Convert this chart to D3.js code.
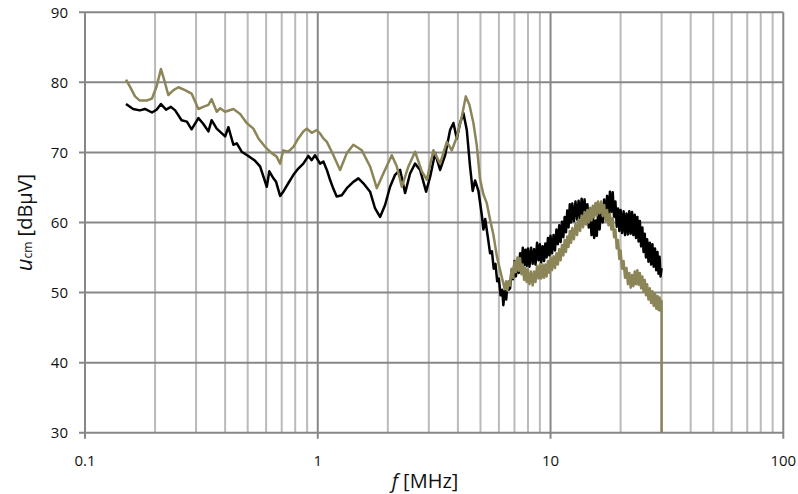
<!DOCTYPE html>
<html>
<head>
<meta charset="utf-8">
<script src="https://cdn.jsdelivr.net/npm/d3@7"></script>
<style>
  body { margin: 0; background: #fff; }
  svg { display: block; font-family: "Open Sans", "Liberation Sans", sans-serif; }
</style>
</head>
<body>
<svg width="798" height="494"></svg>
<script>
// tick values
const xMajor = [0.1, 1, 10, 100];
const xLabels = ["0.1", "1", "10", "100"];
const yTicks = [30, 40, 50, 60, 70, 80, 90];

// measured spectra [f in MHz, u_cm in dBµV]
const black = [
  [0.150,76.9],[0.161,76.2],[0.172,76.0],[0.181,76.2],[0.194,75.7],[0.203,76.1],[0.212,76.9],[0.223,76.1],
  [0.234,76.5],[0.244,76.0],[0.260,74.6],[0.274,74.4],[0.287,73.3],[0.307,74.9],[0.322,74.1],[0.339,73.0],
  [0.350,74.6],[0.368,73.4],[0.400,72.3],[0.413,73.6],[0.434,71.1],[0.449,71.3],[0.471,70.1],[0.503,69.5],
  [0.538,68.8],[0.565,68.0],[0.604,65.1],[0.619,67.3],[0.645,66.3],[0.662,65.8],[0.689,63.8],[0.711,64.4],
  [0.747,65.6],[0.786,66.8],[0.825,67.7],[0.867,68.4],[0.911,69.5],[0.942,68.9],[0.973,69.6],[1.023,68.4],
  [1.057,68.7],[1.094,67.5],[1.129,66.1],[1.167,64.8],[1.206,63.7],[1.268,63.9],[1.333,64.9],[1.422,65.8],
  [1.495,66.3],[1.570,65.6],[1.678,64.4],[1.763,62.0],[1.852,60.8],[1.946,62.5],[2.045,65.1],[2.149,66.8],
  [2.258,67.5],[2.372,64.2],[2.492,67.0],[2.619,68.4],[2.752,67.5],[2.920,64.4],[3.038,66.5],[3.192,69.9],
  [3.354,67.5],[3.524,69.6],[3.703,73.2],[3.826,74.2],[3.957,72.0],[4.088,74.2],[4.224,75.6],[4.368,73.2],
  [4.51,68.0],[4.63,64.5],[4.74,66.0],[4.90,64.5],[5.07,61.0],[5.15,59.0],[5.24,60.5],[5.40,57.5],
  [5.5,55.6],[5.6,55.9],[5.7,53.4],[5.8,54.1],[5.9,51.6],[6.0,52.0],[6.1,49.6],[6.2,50.4],[6.27,48.2],
  [6.35,50.2],[6.45,49.0],[6.52,51.0],[6.6,50.4],[6.7,50.6],[6.8,53.2],[6.9,51.9],[7.0,54.5],[7.1,52.3],
  [7.2,54.6],[7.3,52.8],[7.4,55.6],[7.5,53.6],[7.6,56.4],[7.7,53.9],[7.8,56.1],[7.9,53.8],[8.0,56.3],
  [8.12,53.7],[8.25,56.4],[8.38,54.1],[8.5,56.2],[8.62,54.0],[8.75,57.1],[8.88,54.6],[9.0,56.9],[9.12,54.3],
  [9.25,56.6],[9.38,54.5],[9.5,57.0],[9.62,55.0],[9.75,57.8],[9.88,55.3],[10,58.1],[10.15,55.6],[10.3,58.2],
  [10.45,56.0],[10.6,59.0],[10.75,56.9],[10.9,59.6],[11.05,57.2],[11.2,60.1],[11.35,57.9],[11.5,60.8],
  [11.65,58.6],[11.8,61.7],[11.95,59.3],[12.1,62.6],[12.25,60.0],[12.4,62.7],[12.6,60.2],[12.8,63.0],
  [13.0,60.4],[13.2,63.1],[13.4,60.6],[13.6,63.4],[13.8,60.9],[14.0,63.3],[14.2,60.3],[14.4,62.6],[14.6,59.3],
  [14.8,61.2],[15.0,58.2],[15.2,60.6],[15.4,57.8],[15.6,60.3],[15.8,58.1],[16.0,61.2],[16.25,59.0],
  [16.5,62.4],[16.75,60.0],[17,63.3],[17.25,60.6],[17.5,63.8],[17.75,61.1],[18,64.4],[18.25,61.5],
  [18.5,64.3],[18.75,60.8],[19,63.0],[19.25,59.4],[19.5,62.0],[19.75,58.8],[20,61.8],[20.3,58.5],
  [20.6,61.6],[20.9,58.2],[21.2,61.3],[21.5,58.3],[21.8,61.6],[22.1,58.4],[22.4,61.5],[22.7,58.2],
  [23,61.1],[23.3,57.8],[23.6,60.8],[23.9,57.3],[24.2,60.2],[24.5,56.6],[24.8,59.3],[25.1,55.8],[25.4,58.4],
  [25.7,55.0],[26,57.6],[26.35,54.4],[26.7,57.1],[27.05,54.0],[27.4,56.9],[27.75,53.7],[28.1,56.3],
  [28.45,53.2],[28.8,55.8],[29.1,52.7],[29.4,55.1],[29.7,52.3],[30,53.5]
];

const olive = [
  [0.150,80.4],[0.156,79.4],[0.164,78.0],[0.172,77.4],[0.184,77.4],[0.194,77.7],[0.203,79.4],[0.212,81.9],
  [0.217,80.8],[0.228,78.2],[0.240,78.9],[0.252,79.3],[0.269,78.9],[0.287,78.4],[0.307,76.2],[0.322,76.5],
  [0.339,76.8],[0.350,77.6],[0.368,75.8],[0.380,76.3],[0.400,75.8],[0.434,76.2],[0.464,75.5],[0.495,74.2],
  [0.529,73.4],[0.556,72.0],[0.594,70.8],[0.634,69.9],[0.666,69.4],[0.689,68.4],[0.711,70.3],[0.747,70.1],
  [0.786,70.8],[0.825,72.0],[0.867,73.0],[0.897,73.4],[0.942,72.8],[0.990,73.2],[1.023,72.7],[1.057,72.0],
  [1.094,71.5],[1.129,70.6],[1.167,69.6],[1.247,67.5],[1.333,69.9],[1.422,71.1],[1.546,70.3],[1.678,68.0],
  [1.793,64.9],[1.913,67.0],[2.080,69.6],[2.186,68.0],[2.296,65.1],[2.451,68.0],[2.619,70.1],[2.799,67.3],
  [2.940,66.1],[3.139,70.3],[3.354,68.4],[3.584,71.5],[3.766,70.3],[3.957,72.2],[4.157,75.1],[4.325,78.0],
  [4.482,76.8],[4.663,74.2],[4.82,71.0],[4.98,66.2],[5.15,64.0],[5.32,62.8],[5.5,60.4],[5.68,58.3],
  [5.88,55.2],[6.07,53.2],[6.27,51.3],[6.35,50.5],[6.45,51.6],[6.52,50.3],[6.6,51.6],[6.7,51.0],[6.8,53.4],
  [6.9,52.1],[7.0,54.4],[7.1,52.9],[7.2,55.0],[7.3,53.1],[7.4,54.9],[7.5,52.6],[7.6,54.0],[7.7,51.8],
  [7.8,53.5],[7.9,51.5],[8.0,53.3],[8.12,51.2],[8.25,53.0],[8.38,51.0],[8.5,53.0],[8.62,51.5],[8.75,53.8],
  [8.88,52.0],[9.0,54.0],[9.12,52.0],[9.25,54.0],[9.38,52.1],[9.5,54.0],[9.62,52.3],[9.75,54.5],[9.88,52.8],
  [10,55.0],[10.15,53.2],[10.3,55.2],[10.45,53.5],[10.6,55.6],[10.75,54.0],[10.9,56.2],[11.05,54.6],
  [11.2,56.8],[11.35,55.3],[11.5,57.5],[11.65,55.8],[11.8,58.0],[11.95,56.5],[12.1,58.8],[12.25,57.1],
  [12.4,59.2],[12.6,57.6],[12.8,59.8],[13.0,58.2],[13.2,60.4],[13.4,58.8],[13.6,61.0],[13.8,59.3],
  [14.0,61.5],[14.2,59.7],[14.4,61.8],[14.6,60.0],[14.8,62.1],[15.0,60.3],[15.2,62.4],[15.4,60.7],
  [15.6,62.8],[15.8,61.0],[16.0,63.0],[16.25,61.3],[16.5,63.0],[16.75,60.9],[17,62.5],[17.25,60.2],
  [17.5,61.8],[17.75,59.6],[18,61.2],[18.25,59.0],[18.5,60.6],[18.75,57.9],[19,59.0],[19.25,56.3],
  [19.5,57.5],[19.75,54.8],[20,56.0],[20.3,53.4],[20.6,54.5],[20.9,52.1],[21.2,53.5],[21.5,51.2],
  [21.8,52.8],[22.1,50.7],[22.4,52.5],[22.7,50.9],[23,53.0],[23.3,51.2],[23.6,53.2],[23.9,51.1],[24.2,52.8],
  [24.5,50.6],[24.8,52.3],[25.1,50.1],[25.4,51.8],[25.7,49.6],[26,51.2],[26.35,49.0],[26.7,50.6],
  [27.05,48.5],[27.4,50.2],[27.75,48.1],[28.1,49.8],[28.45,47.7],[28.8,49.5],[29.1,47.5],[29.4,49.3],
  [29.7,47.4],[30,48.8],[30,30]
];

const svg = d3.select("svg");

const x = d3.scaleLog().domain([0.1, 100]).range([85, 783.3]);
const y = d3.scaleLinear().domain([30, 90]).range([432.7, 12.3]);

const majorCol = "#878787";
const minorCol = "#bababa";

// minor vertical grid (2..9 in each decade)
const xMinor = [];
xMajor.slice(0, -1).forEach(d => { for (let k = 2; k <= 9; k++) xMinor.push(d * k); });

const grid = svg.append("g");

grid.selectAll("line.minor")
    .data(xMinor)
    .enter()
    .append("line")
    .attr("class", "minor")
    .attr("x1", d => x(d)).attr("x2", d => x(d))
    .attr("y1", y(90)).attr("y2", y(30))
    .attr("stroke", minorCol)
    .attr("stroke-width", 2);

grid.selectAll("line.h")
    .data(yTicks)
    .enter()
    .append("line")
    .attr("class", "h")
    .attr("x1", x(0.1) - 6).attr("x2", x(100))
    .attr("y1", d => y(d)).attr("y2", d => y(d))
    .attr("stroke", majorCol)
    .attr("stroke-width", 2);

grid.selectAll("line.major")
    .data(xMajor)
    .enter()
    .append("line")
    .attr("class", "major")
    .attr("x1", d => x(d)).attr("x2", d => x(d))
    .attr("y1", y(90)).attr("y2", y(30) + 6)
    .attr("stroke", majorCol)
    .attr("stroke-width", 2);

// tick labels
svg.append("g")
    .selectAll("text")
    .data(yTicks)
    .enter()
    .append("text")
    .attr("x", 68)
    .attr("y", d => y(d) + 5.5)
    .attr("text-anchor", "end")
    .attr("font-size", 15)
    .attr("fill", "#111")
    .text(d => d);

svg.append("g")
    .selectAll("text")
    .data(xMajor)
    .enter()
    .append("text")
    .attr("x", d => x(d))
    .attr("y", 466)
    .attr("text-anchor", "middle")
    .attr("font-size", 15)
    .attr("fill", "#111")
    .text((d, i) => xLabels[i]);

// curves
const line = d3.line()
    .x(d => x(d[0]))
    .y(d => y(d[1]));

svg.append("path")
    .datum(black)
    .attr("d", line)
    .attr("fill", "none")
    .attr("stroke", "#000")
    .attr("stroke-width", 2.5)
    .attr("stroke-linejoin", "round");

svg.append("path")
    .datum(olive)
    .attr("d", line)
    .attr("fill", "none")
    .attr("stroke", "#8b8558")
    .attr("stroke-width", 2.5)
    .attr("stroke-linejoin", "round");

// axis titles
const xt = svg.append("text")
    .attr("x", 425)
    .attr("y", 488)
    .attr("text-anchor", "middle")
    .attr("font-size", 20)
    .attr("fill", "#111");
xt.append("tspan").attr("font-style", "italic").text("f");
xt.append("tspan").text(" [MHz]");

const yt = svg.append("text")
    .attr("transform", "translate(32," + ((y(90) + y(30)) / 2) + ") rotate(-90)")
    .attr("text-anchor", "middle")
    .attr("font-size", 20)
    .attr("fill", "#111");
yt.append("tspan").attr("font-style", "italic").attr("font-size", 22).text("u");
yt.append("tspan").attr("font-size", 12).text("cm");
yt.append("tspan").text(" [dBµV]");
</script>
</body>
</html>
